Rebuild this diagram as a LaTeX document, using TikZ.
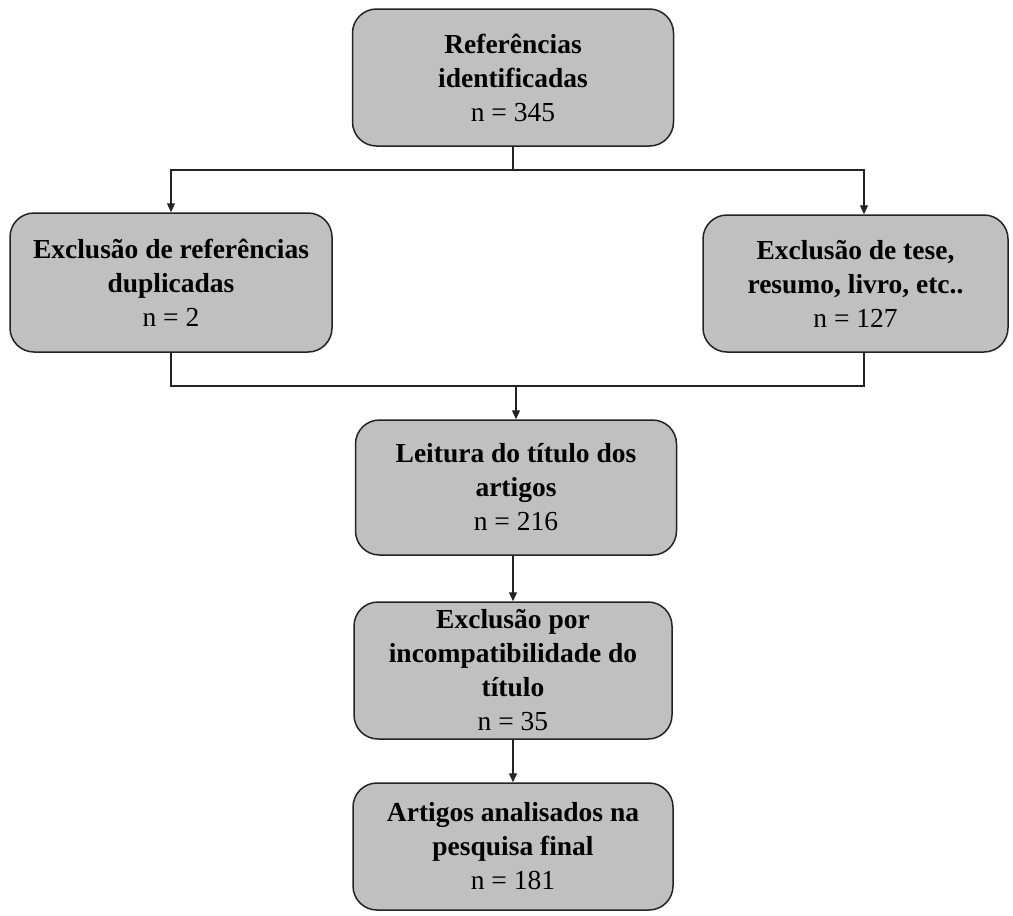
\documentclass[tikz,border=0pt]{standalone}
\usepackage{fontspec}
\setmainfont{Liberation Serif}
\usetikzlibrary{arrows.meta}
\definecolor{boxgray}{RGB}{192,192,192}
\definecolor{linegray}{RGB}{35,35,35}

\begin{document}
\begin{tikzpicture}[x=1pt,y=-1pt]
        \tikzstyle{every node}=[font=\fontsize{27.5}{34}\selectfont]
        \tikzstyle{etapa}=[draw=linegray, line width=1.5pt, fill=boxgray, rounded corners=24pt, align=center, inner sep=0pt]
        \tikzstyle{linha}=[line width=1.3pt, draw=linegray]
        \tikzstyle{seta}=[linha, -{Triangle[width=8pt,length=9pt]}]
        \useasboundingbox (0,0) rectangle (1013,916);
        \node [etapa, minimum width=321, minimum height=137] (ref) at (513,77.5) {\textbf{Referências}\\\textbf{identificadas}\\n = 345};
        \node [etapa, minimum width=322, minimum height=139] (dup) at (171,282.5) {\textbf{Exclusão de referências}\\\textbf{duplicadas}\\n = 2};
        \node [etapa, minimum width=305, minimum height=137] (tese) at (855.5,283.5) {\textbf{Exclusão de tese,}\\\textbf{resumo, livro, etc..}\\n = 127};
        \node [etapa, minimum width=321, minimum height=135] (leitura) at (516,487.5) {\textbf{Leitura do título dos}\\\textbf{artigos}\\n = 216};
        \node [etapa, minimum width=318, minimum height=137] (titulo) at (513,670.5) {\textbf{Exclusão por}\\\textbf{incompatibilidade do}\\\textbf{título}\\n = 35};
        \node [etapa, minimum width=320, minimum height=127] (final) at (513,846.5) {\textbf{Artigos analisados na}\\\textbf{pesquisa final}\\n = 181};
        \coordinate (topo) at (513,170);
        \coordinate (teseIn) at (864,170);
        \coordinate (juncao) at (516,386);
        \draw [linha] (ref.south) -- (topo);
        \draw [seta] (topo) -| (dup.north);
        \draw [seta] (topo) -- (teseIn) -- (teseIn |- tese.north);
        \draw [linha] (dup.south) |- (teseIn |- juncao) -- (teseIn |- tese.south);
        \draw [seta] (juncao) -- (leitura.north);
        \draw [seta] (leitura.south -| titulo.north) -- (titulo.north);
        \draw [seta] (titulo.south) -- (final.north);
    \end{tikzpicture}
\end{document}
